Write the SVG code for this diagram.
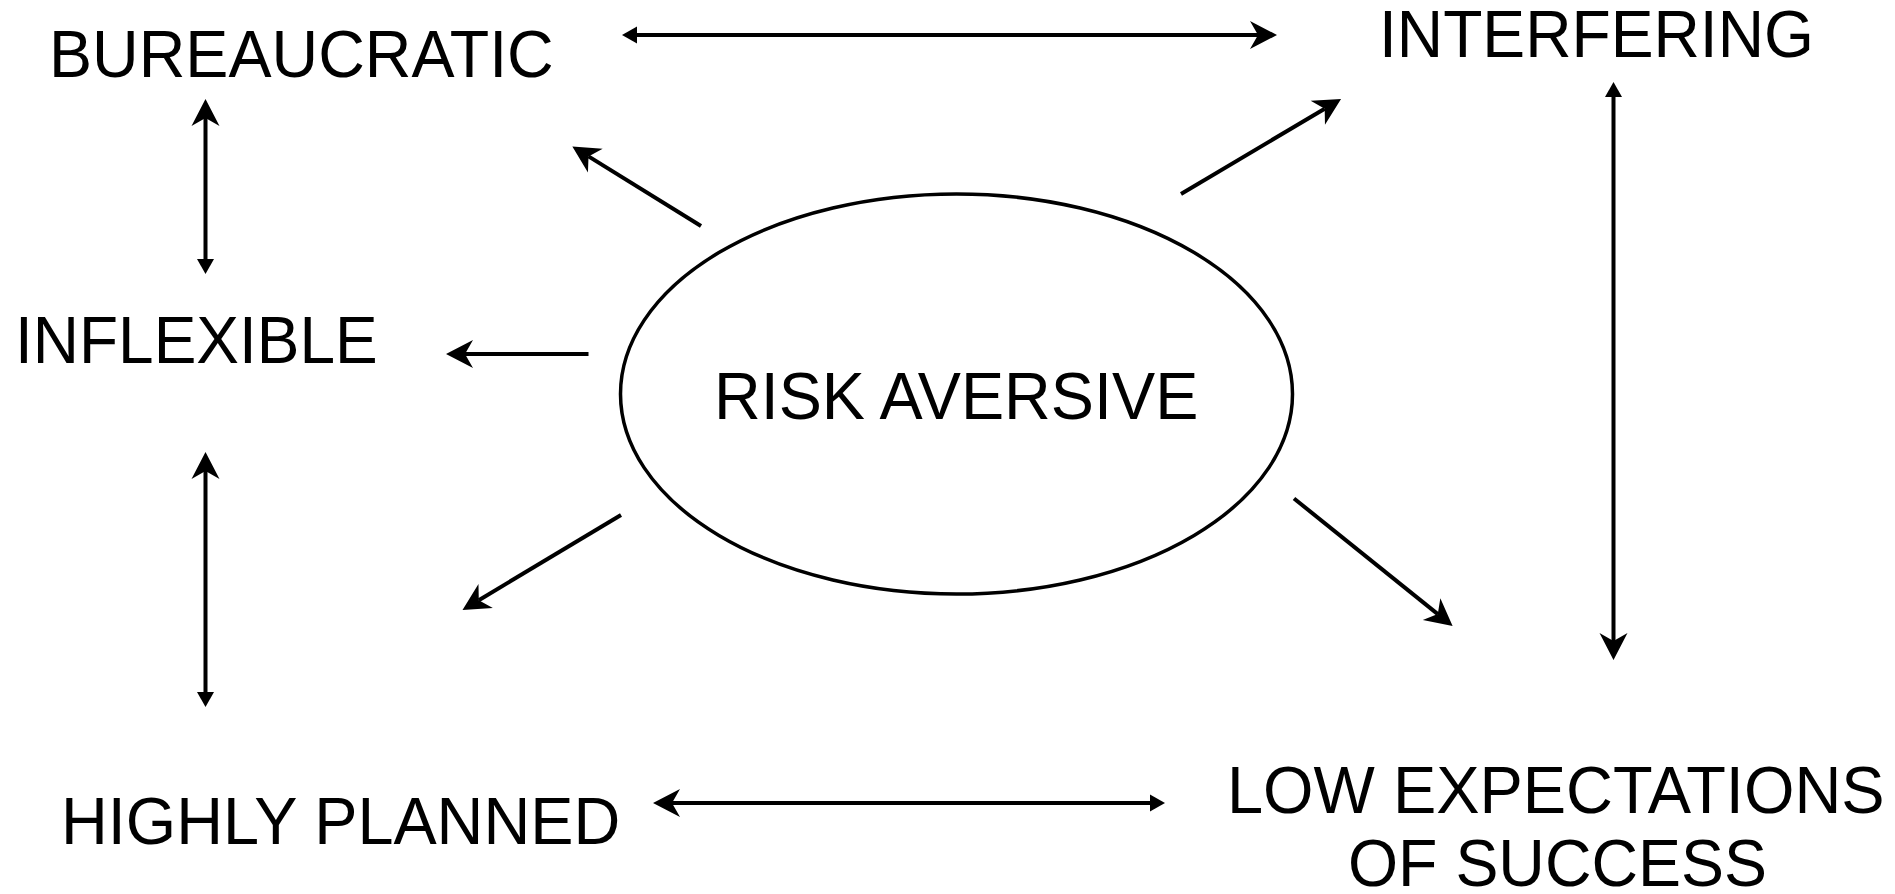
<svg xmlns="http://www.w3.org/2000/svg" width="1895" height="894" viewBox="0 0 1895 894">
<style>
.lbl{font-family:"Liberation Sans",Arial,sans-serif;font-size:67px;fill:#000}
.ln{stroke:#000;stroke-width:4;fill:none}
</style>
<defs>
<marker id="big" markerUnits="userSpaceOnUse" orient="auto-start-reverse" refX="0" refY="0" markerWidth="40" markerHeight="40" overflow="visible">
<path d="M19,0 L-8,-14 L0,0 L-8,14 Z" fill="#000"/>
</marker>
<marker id="small" markerUnits="userSpaceOnUse" orient="auto-start-reverse" refX="0" refY="0" markerWidth="30" markerHeight="30" overflow="visible">
<path d="M15,0 L0,-8.5 L0,8.5 Z" fill="#000"/>
</marker>
</defs>
<rect width="1895" height="894" fill="#fff"/>
<g id="connectors">
<line class="ln" x1="637" y1="35" x2="1258" y2="35" marker-start="url(#small)" marker-end="url(#big)"/>
<line class="ln" x1="205.5" y1="118" x2="205.5" y2="259" marker-start="url(#big)" marker-end="url(#small)"/>
<line class="ln" x1="701" y1="226" x2="588.5" y2="156.4" marker-end="url(#big)"/>
<line class="ln" x1="1181" y1="194" x2="1324.7" y2="108.7" marker-end="url(#big)"/>
<line class="ln" x1="588.5" y1="354" x2="465" y2="354" marker-end="url(#big)"/>
<line class="ln" x1="621" y1="515" x2="478.8" y2="600.2" marker-end="url(#big)"/>
<line class="ln" x1="1294" y1="498.5" x2="1437.8" y2="614.1" marker-end="url(#big)"/>
<line class="ln" x1="672" y1="803" x2="1150" y2="803" marker-start="url(#big)" marker-end="url(#small)"/>
<line class="ln" x1="1613.5" y1="97" x2="1613.5" y2="641" marker-start="url(#small)" marker-end="url(#big)"/>
<line class="ln" x1="205.5" y1="471" x2="205.5" y2="692" marker-start="url(#big)" marker-end="url(#small)"/>
</g>
<g id="risk-aversive">
<ellipse cx="956.5" cy="394" rx="336" ry="200" fill="none" stroke="#000" stroke-width="3.5"/>
<text class="lbl" transform="translate(714,419) scale(0.966,1)">RISK AVERSIVE</text>
</g>
<g id="bureaucratic"><text class="lbl" transform="translate(49,76.5) scale(0.964,1)">BUREAUCRATIC</text></g>
<g id="interfering"><text class="lbl" transform="translate(1379,57) scale(0.958,1)">INTERFERING</text></g>
<g id="inflexible"><text class="lbl" transform="translate(15,362.5) scale(0.955,1)">INFLEXIBLE</text></g>
<g id="highly-planned"><text class="lbl" transform="translate(61,844) scale(0.967,1)">HIGHLY PLANNED</text></g>
<g id="low-expectations">
<text class="lbl" transform="translate(1227,813) scale(0.969,1)">LOW EXPECTATIONS</text>
<text class="lbl" transform="translate(1348,886) scale(0.962,1)">OF SUCCESS</text>
</g>
</svg>
